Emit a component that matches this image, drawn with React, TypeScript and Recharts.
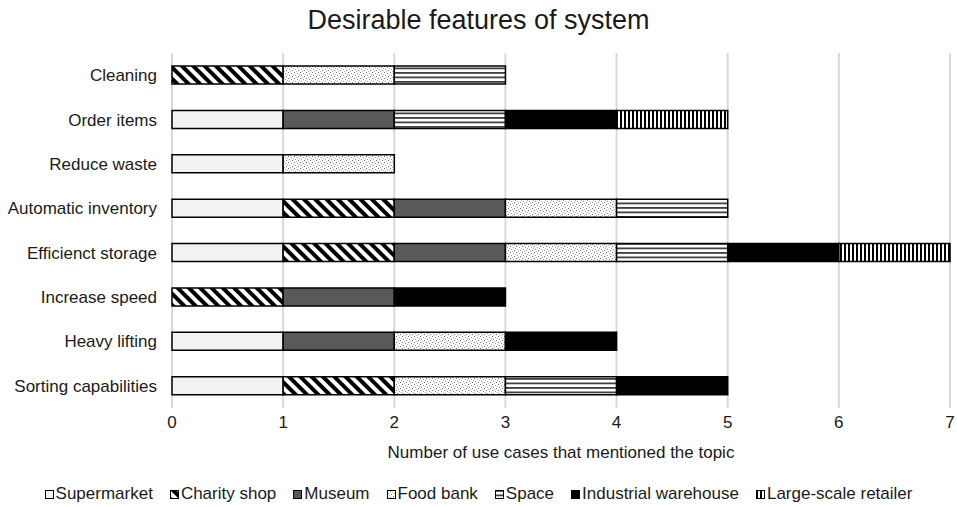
import React from "react";
import { BarChart, Bar, XAxis, YAxis, CartesianGrid } from "recharts";

const categories = [
  "Cleaning",
  "Order items",
  "Reduce waste",
  "Automatic inventory",
  "Efficienct storage",
  "Increase speed",
  "Heavy lifting",
  "Sorting capabilities",
];

// one value per category, top to bottom
const supermarket = [0, 1, 1, 1, 1, 0, 1, 1];
const charityShop = [1, 0, 0, 1, 1, 1, 0, 1];
const museum = [0, 1, 0, 1, 1, 1, 1, 0];
const foodBank = [1, 0, 1, 1, 1, 0, 1, 1];
const space = [1, 1, 0, 1, 1, 0, 0, 1];
const industrialWarehouse = [0, 1, 0, 0, 1, 1, 1, 1];
const largeScaleRetailer = [0, 1, 0, 0, 1, 0, 0, 0];

const xTicks = [0, 1, 2, 3, 4, 5, 6, 7];

const series = [
  { key: "supermarket", name: "Supermarket", values: supermarket, fill: "#f2f2f2" },
  { key: "charity", name: "Charity shop", values: charityShop, fill: "url(#pDiag)" },
  { key: "museum", name: "Museum", values: museum, fill: "#595959" },
  { key: "food", name: "Food bank", values: foodBank, fill: "url(#pDots)" },
  { key: "space", name: "Space", values: space, fill: "url(#pHoriz)" },
  { key: "industrial", name: "Industrial warehouse", values: industrialWarehouse, fill: "#000000" },
  { key: "large", name: "Large-scale retailer", values: largeScaleRetailer, fill: "url(#pVert)" },
];

const data = categories.map((cat, i) => {
  const row: Record<string, string | number> = { category: cat };
  for (const s of series) row[s.key] = s.values[i];
  return row;
});

const FONT = '"Liberation Sans", Arial, sans-serif';
const TEXT = "#1a1a1a";

function Patterns() {
  return (
    <svg width={0} height={0} style={{ position: "absolute" }}>
      <defs>
        <pattern id="pDiag" patternUnits="userSpaceOnUse" width={8} height={8} patternTransform="rotate(-45)">
          <rect width={8} height={8} fill="#fff" />
          <rect width={4} height={8} fill="#000" />
        </pattern>
        <pattern id="pDots" patternUnits="userSpaceOnUse" width={6} height={6}>
          <rect width={6} height={6} fill="#fff" />
          <rect x={0} y={0} width={1} height={1} fill="#707070" />
          <rect x={3} y={1} width={1} height={1} fill="#9a9a9a" />
          <rect x={1} y={3} width={1} height={1} fill="#9a9a9a" />
          <rect x={4} y={4} width={1} height={1} fill="#707070" />
          <rect x={2} y={5} width={1} height={1} fill="#b5b5b5" />
          <rect x={5} y={2} width={1} height={1} fill="#b5b5b5" />
        </pattern>
        <pattern id="pHoriz" patternUnits="userSpaceOnUse" width={4} height={4.5}>
          <rect width={4} height={4.5} fill="#fff" />
          <rect y={0} width={4} height={1.8} fill="#404040" />
        </pattern>
        <pattern id="pVert" patternUnits="userSpaceOnUse" width={4} height={4}>
          <rect width={4} height={4} fill="#fff" />
          <rect x={0} width={2} height={4} fill="#000" />
        </pattern>
      </defs>
    </svg>
  );
}

export default function App() {
  return (
    <div
      style={{
        position: "absolute",
        left: 0,
        top: 0,
        width: 957,
        height: 507,
        background: "#fff",
        fontFamily: FONT,
      }}
    >
      <Patterns />
      <div
        style={{
          position: "absolute",
          top: 4,
          left: 0,
          width: 957,
          textAlign: "center",
          fontSize: 27,
          lineHeight: "32px",
          color: TEXT,
        }}
      >
        Desirable features of system
      </div>
      <BarChart
        width={957}
        height={507}
        data={data}
        layout="vertical"
        margin={{ top: 53, right: 7, left: 0, bottom: 45 }}
        barSize={18}
      >
        <CartesianGrid horizontal={false} stroke="#d9d9d9" strokeWidth={2} />
        <XAxis
          type="number"
          domain={[0, 7]}
          ticks={xTicks}
          interval={0}
          axisLine={false}
          tickLine={false}
          height={54}
          tick={{ fontSize: 17, fill: TEXT, fontFamily: FONT }}
          label={{
            value: "Number of use cases that mentioned the topic",
            position: "insideBottom",
            offset: 4,
            style: { fontSize: 17, fill: TEXT, fontFamily: FONT },
          }}
        />
        <YAxis
          type="category"
          dataKey="category"
          width={172}
          axisLine={false}
          tickLine={false}
          tickMargin={9}
          tick={{ fontSize: 17, fill: TEXT, fontFamily: FONT }}
        />
        {series.map((s) => (
          <Bar
            key={s.key}
            dataKey={s.key}
            name={s.name}
            stackId="a"
            fill={s.fill}
            stroke="#000"
            strokeWidth={1.5}
            isAnimationActive={false}
          />
        ))}
      </BarChart>
      <div
        style={{
          position: "absolute",
          top: 484,
          left: 0,
          width: 957,
          display: "flex",
          justifyContent: "center",
          gap: 17,
          fontSize: 17,
          lineHeight: "20px",
          color: TEXT,
        }}
      >
        {series.map((s) => (
          <span key={s.key} style={{ display: "flex", alignItems: "center" }}>
            <svg width={9} height={9} style={{ marginRight: 2 }}>
              <rect x={0.5} y={0.5} width={8} height={8} fill={s.fill} stroke="#000" strokeWidth={1} />
            </svg>
            {s.name}
          </span>
        ))}
      </div>
    </div>
  );
}
